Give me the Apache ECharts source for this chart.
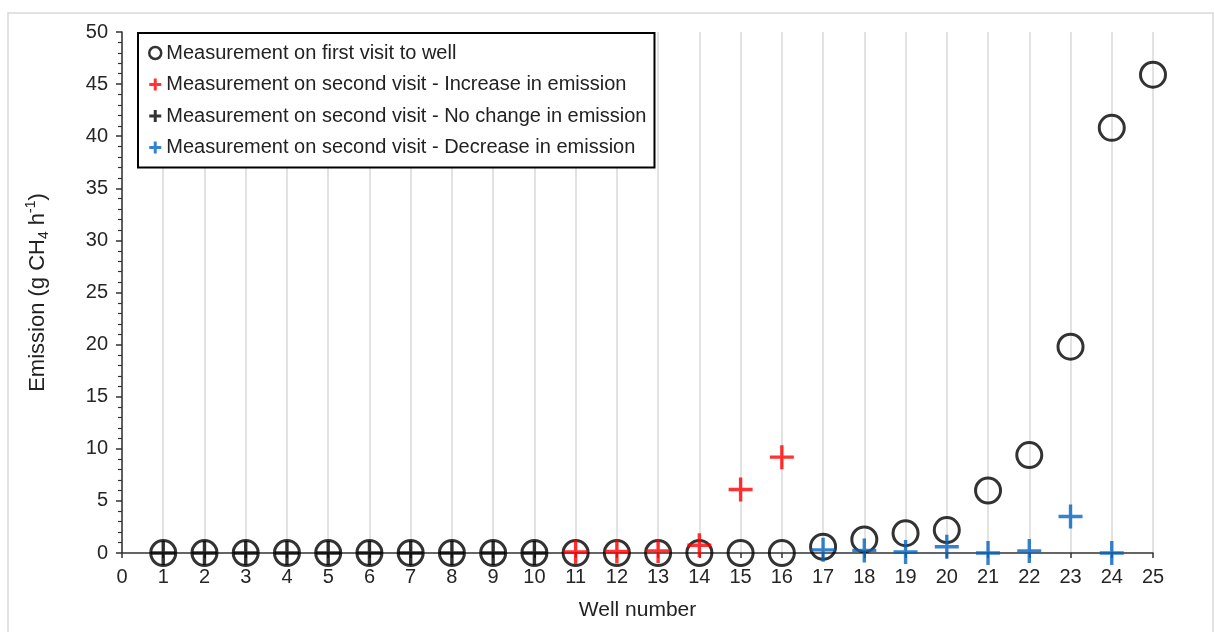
<!DOCTYPE html>
<html>
<head>
<meta charset="utf-8">
<script src="https://cdn.jsdelivr.net/npm/echarts@6/dist/echarts.min.js"></script>
<style>
  html, body { margin: 0; padding: 0; background: #fff; }
  #chart { width: 1214px; height: 632px; }
</style>
</head>
<body>
<div id="chart"></div>
<script>
// Well numbers and emissions (g CH4 per hour)
const wells = [1, 2, 3, 4, 5, 6, 7, 8, 9, 10, 11, 12, 13, 14, 15, 16, 17, 18, 19, 20, 21, 22, 23, 24, 25];
const firstVisit = [0, 0, 0, 0, 0, 0, 0, 0, 0, 0, 0, 0, 0, 0, 0, 0, 0.6, 1.3, 1.9, 2.2, 6.0, 9.4, 19.8, 40.8, 45.9];

const noChangeWells = [1, 2, 3, 4, 5, 6, 7, 8, 9, 10];
const noChangeValues = [0, 0, 0, 0, 0, 0, 0, 0, 0, 0];

const increaseWells = [11, 12, 13, 14, 15, 16];
const increaseValues = [0.1, 0.15, 0.2, 0.75, 6.1, 9.2];

const decreaseWells = [17, 18, 19, 20, 21, 22, 23, 24];
const decreaseValues = [0.3, 0.25, 0.1, 0.6, 0, 0.2, 3.5, 0];

const seriesNames = [
  'Measurement on first visit to well',
  'Measurement on second visit - Increase in emission',
  'Measurement on second visit - No change in emission',
  'Measurement on second visit - Decrease in emission'
];

const pairs = (xs, ys) => xs.map((x, i) => [x, ys[i]]);

// plus markers drawn as filled paths
const PLUS = 'path://M10.3,0H13.7V10.3H24V13.7H13.7V24H10.3V13.7H0V10.3H10.3Z';
const PLUS_BOLD = 'path://M9,0H15V9H24V15H15V24H9V15H0V9H9Z';

const RED = '#ff0000';
const BLUE = '#0563c1';
const FONT = 'Liberation Sans, Arial, sans-serif';

const chart = echarts.init(document.getElementById('chart'), null, { renderer: 'canvas' });

chart.setOption({
  animation: false,
  backgroundColor: '#fff',
  textStyle: { fontFamily: FONT },
  graphic: [{
    type: 'rect',
    shape: { x: 8, y: 13, width: 1205, height: 640 },
    style: { fill: 'none', stroke: '#d9d9d9', lineWidth: 1.5 },
    silent: true,
    z: -10
  }],
  grid: { left: 122, right: 61, top: 32, bottom: 79 },
  legend: {
    orient: 'vertical',
    left: 138,
    top: 33,
    padding: [10, 8, 10, 10],
    backgroundColor: '#fff',
    borderColor: '#000',
    borderWidth: 2,
    itemWidth: 12,
    itemHeight: 12,
    itemGap: 11.5,
    textStyle: { fontSize: 20, color: '#222', fontFamily: FONT, lineHeight: 20 },
    data: [
      { name: seriesNames[0], icon: 'circle', itemStyle: { color: 'transparent', borderColor: '#000', borderWidth: 2.5 } },
      { name: seriesNames[1], icon: PLUS_BOLD, itemStyle: { color: RED, borderWidth: 0 } },
      { name: seriesNames[2], icon: PLUS_BOLD, itemStyle: { color: '#000', borderWidth: 0 } },
      { name: seriesNames[3], icon: PLUS_BOLD, itemStyle: { color: BLUE, borderWidth: 0 } }
    ]
  },
  xAxis: {
    type: 'value',
    min: 0,
    max: 25,
    interval: 1,
    name: 'Well number',
    nameLocation: 'middle',
    nameGap: 47,
    nameTextStyle: { fontSize: 21, color: '#222', fontFamily: FONT },
    axisLine: { onZero: true, lineStyle: { color: '#333', width: 1.5 } },
    axisTick: { show: true, length: 5, lineStyle: { color: '#333', width: 1.5 } },
    axisLabel: { fontSize: 20, color: '#262626', margin: 14, fontFamily: FONT },
    splitLine: { show: true, lineStyle: { color: '#d9d9d9', width: 1.5 } }
  },
  yAxis: {
    type: 'value',
    min: 0,
    max: 50,
    interval: 5,
    name: '{a|Emission (g CH}{b|4}{a| h}{c|-1}{a|)}',
    nameLocation: 'middle',
    nameGap: 71,
    nameTextStyle: {
      color: '#222',
      fontFamily: FONT,
      rich: {
        a: { fontSize: 22, color: '#222', fontFamily: FONT, lineHeight: 27 },
        b: { fontSize: 14, color: '#222', fontFamily: FONT, verticalAlign: 'bottom', lineHeight: 27 },
        c: { fontSize: 14, color: '#222', fontFamily: FONT, verticalAlign: 'top', lineHeight: 27 }
      }
    },
    axisLine: { show: true, lineStyle: { color: '#333', width: 1.5 } },
    axisTick: { show: true, length: 6, lineStyle: { color: '#333', width: 1.5 } },
    minorTick: { show: true, splitNumber: 5, length: 4, lineStyle: { color: '#333', width: 1.2 } },
    axisLabel: { fontSize: 20, color: '#262626', margin: 14, fontFamily: FONT },
    splitLine: { show: false }
  },
  series: [
    {
      name: seriesNames[0],
      type: 'scatter',
      symbol: 'circle',
      symbolSize: 25,
      itemStyle: { color: 'transparent', borderColor: '#000', borderWidth: 3 },
      data: pairs(wells, firstVisit),
      z: 2
    },
    {
      name: seriesNames[2],
      type: 'scatter',
      symbol: PLUS,
      symbolSize: 24,
      itemStyle: { color: '#000' },
      data: pairs(noChangeWells, noChangeValues),
      z: 3
    },
    {
      name: seriesNames[1],
      type: 'scatter',
      symbol: PLUS,
      symbolSize: 24,
      itemStyle: { color: RED },
      data: pairs(increaseWells, increaseValues),
      z: 3
    },
    {
      name: seriesNames[3],
      type: 'scatter',
      symbol: PLUS,
      symbolSize: 24,
      itemStyle: { color: BLUE },
      data: pairs(decreaseWells, decreaseValues),
      z: 3
    }
  ]
});
</script>
</body>
</html>
